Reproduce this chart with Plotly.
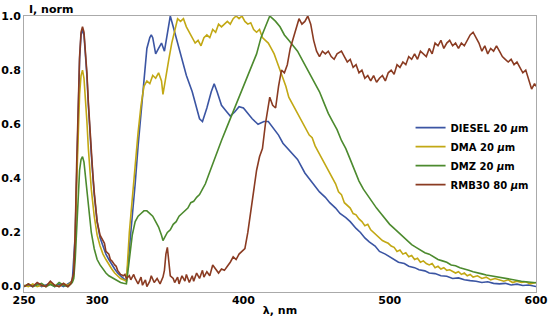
import plotly.graph_objects as go

# Normalised emission spectra (wavelength in nm, intensity 0..1)
diesel_nm = [250, 253, 256, 259, 262, 265, 268, 271, 274, 277, 280, 283, 285, 286, 287, 288, 289, 290,
             291, 292, 293, 294, 295, 296, 298, 300, 302, 304, 306, 308, 310, 312, 314, 316, 318, 320,
             322, 324, 326, 328, 330, 332, 334, 336, 337, 338, 340, 342, 344, 346, 348, 350, 352, 355,
             358, 361, 365, 368, 370, 372, 375, 378, 380, 382, 385, 388, 391, 394, 397, 400, 403, 406,
             410, 414, 417, 420, 424, 427, 432, 437, 442, 447, 452, 456, 459, 463, 466, 470, 473, 477,
             480, 483, 486, 490, 493, 497, 500, 503, 506, 510, 513, 517, 520, 524, 527, 531, 535, 539,
             543, 547, 551, 555, 559, 563, 567, 571, 575, 579, 583, 587, 591, 595, 600]
diesel_I = [0.0, 0.005, 0.0, 0.01, 0.0, 0.005, 0.012, 0.0, 0.008, 0.0, 0.01, 0.02, 0.19, 0.44, 0.67, 0.84, 0.93, 0.95,
            0.93, 0.87, 0.78, 0.67, 0.57, 0.49, 0.34, 0.24, 0.18, 0.15, 0.12, 0.10, 0.08, 0.065, 0.05, 0.04, 0.03, 0.02,
            0.14, 0.25, 0.38, 0.52, 0.64, 0.78, 0.88, 0.92, 0.93, 0.92, 0.86, 0.88, 0.90, 0.87, 0.93, 1.0, 0.96, 0.90,
            0.83, 0.78, 0.72, 0.66, 0.62, 0.61, 0.66, 0.72, 0.75, 0.72, 0.67, 0.65, 0.63, 0.645, 0.665, 0.66, 0.64, 0.62,
            0.60, 0.61, 0.61, 0.59, 0.56, 0.53, 0.50, 0.47, 0.42, 0.385, 0.35, 0.33, 0.31, 0.29, 0.27, 0.255, 0.24, 0.215,
            0.20, 0.18, 0.165, 0.15, 0.13, 0.12, 0.11, 0.10, 0.09, 0.085, 0.075, 0.07, 0.062, 0.058, 0.05, 0.048, 0.04, 0.038,
            0.03, 0.032, 0.025, 0.022, 0.02, 0.015, 0.018, 0.012, 0.01, 0.012, 0.006, 0.009, 0.004, 0.006, 0.0]

dma_nm = [250, 253, 256, 259, 262, 265, 268, 271, 274, 277, 280, 283, 284, 285, 286, 287, 288, 289, 290,
          291, 292, 293, 294, 295, 296, 298, 300, 302, 304, 306, 308, 310, 312, 314, 316, 318, 320,
          322, 324, 326, 328, 330, 332, 334, 336, 338, 340, 342, 344, 345, 347, 349, 351, 353, 355, 357, 359,
          361, 363, 365, 367, 369, 371, 373, 375, 377, 379, 381, 383, 385, 387, 389, 391, 393, 395, 397, 399,
          401, 403, 405, 407, 409, 411, 413, 415, 417, 419, 421, 423, 425, 427, 429, 431, 433, 435, 437, 439,
          441, 443, 445, 447, 449, 451, 453, 455, 457, 459, 461, 463, 465, 467, 469, 471, 473, 475, 477, 479,
          481, 483, 485, 487, 489, 491, 493, 495, 497, 499, 501, 503, 505, 507, 509, 511, 513, 515, 517, 519,
          521, 523, 525, 527, 529, 531, 533, 535, 537, 539, 541, 543, 545, 547, 549, 551, 553, 555, 557, 560,
          563, 566, 569, 572, 575, 578, 581, 584, 587, 590, 593, 596, 600]
dma_I = [0.005, 0.0, 0.01, 0.0, 0.005, 0.0, 0.015, 0.005, 0.0, 0.01, 0.005, 0.02, 0.04, 0.17, 0.38, 0.57, 0.71, 0.78, 0.80,
         0.77, 0.70, 0.61, 0.51, 0.43, 0.36, 0.26, 0.19, 0.15, 0.12, 0.10, 0.08, 0.065, 0.05, 0.04, 0.03, 0.025, 0.02,
         0.20, 0.33, 0.45, 0.57, 0.67, 0.74, 0.76, 0.75, 0.78, 0.77, 0.79, 0.76, 0.71, 0.78, 0.84, 0.90, 0.95, 0.99, 0.98, 0.99,
         0.96, 0.94, 0.92, 0.90, 0.91, 0.89, 0.92, 0.93, 0.92, 0.95, 0.94, 0.97, 0.96, 0.97, 0.98, 0.97, 0.99, 1.0, 0.99, 1.0,
         0.98, 0.97, 0.975, 0.95, 0.94, 0.95, 0.92, 0.91, 0.90, 0.88, 0.86, 0.83, 0.80, 0.77, 0.74, 0.70, 0.68, 0.66, 0.64, 0.62,
         0.60, 0.58, 0.56, 0.55, 0.52, 0.50, 0.48, 0.46, 0.44, 0.42, 0.40, 0.38, 0.35, 0.34, 0.31, 0.30, 0.29, 0.27, 0.265, 0.25,
         0.24, 0.225, 0.23, 0.21, 0.20, 0.19, 0.18, 0.17, 0.165, 0.16, 0.15, 0.145, 0.13, 0.135, 0.12, 0.125, 0.11, 0.115, 0.10, 0.105,
         0.09, 0.095, 0.085, 0.08, 0.085, 0.07, 0.075, 0.065, 0.07, 0.06, 0.062, 0.055, 0.05, 0.055, 0.045, 0.05, 0.04, 0.045, 0.035, 0.04,
         0.03, 0.035, 0.025, 0.03, 0.025, 0.02, 0.025, 0.015, 0.02, 0.015, 0.018, 0.01, 0.015]

dmz_nm = [250, 253, 256, 259, 262, 265, 268, 271, 274, 277, 280, 283, 284, 285, 286, 287, 288, 289, 290,
          291, 292, 293, 294, 295, 296, 298, 300, 302, 304, 306, 308, 310, 312, 314, 316, 318, 320,
          322, 324, 326, 328, 330, 332, 334, 336, 338, 340, 342, 344, 345, 346, 348, 350, 352, 354, 356, 358,
          360, 362, 364, 366, 368, 370, 372, 374, 376, 378, 380, 382, 385, 388, 391, 394, 397, 400, 403, 406,
          409, 412, 415, 418, 420, 422, 425, 428, 431, 434, 437, 440, 443, 446, 449, 452, 455, 458, 461, 464,
          467, 470, 473, 476, 479, 482, 485, 488, 491, 494, 497, 500, 503, 506, 509, 512, 515, 518, 521, 524,
          527, 530, 533, 536, 539, 542, 545, 548, 551, 554, 557, 560, 563, 566, 569, 572, 575, 578, 581, 584,
          587, 590, 593, 596, 600]
dmz_I = [0.0, 0.01, 0.0, 0.005, 0.012, 0.0, 0.008, 0.0, 0.015, 0.005, 0.0, 0.015, 0.03, 0.10, 0.23, 0.35, 0.43, 0.47, 0.48,
         0.46, 0.41, 0.35, 0.29, 0.24, 0.20, 0.14, 0.10, 0.08, 0.065, 0.05, 0.04, 0.033, 0.026, 0.02, 0.015, 0.012, 0.01,
         0.10, 0.19, 0.24, 0.26, 0.27, 0.28, 0.28, 0.27, 0.26, 0.24, 0.22, 0.19, 0.17, 0.18, 0.20, 0.21, 0.23, 0.24, 0.26, 0.27,
         0.28, 0.29, 0.31, 0.315, 0.33, 0.34, 0.36, 0.38, 0.41, 0.44, 0.47, 0.50, 0.54, 0.58, 0.62, 0.66, 0.70, 0.74, 0.78, 0.82,
         0.86, 0.92, 0.96, 1.0, 0.99, 0.98, 0.96, 0.93, 0.91, 0.89, 0.87, 0.84, 0.81, 0.78, 0.75, 0.72, 0.68, 0.64, 0.61, 0.58,
         0.54, 0.51, 0.47, 0.43, 0.39, 0.36, 0.335, 0.31, 0.29, 0.27, 0.25, 0.23, 0.215, 0.20, 0.185, 0.17, 0.155, 0.145, 0.135, 0.125,
         0.12, 0.11, 0.10, 0.095, 0.09, 0.08, 0.077, 0.07, 0.066, 0.06, 0.055, 0.05, 0.047, 0.043, 0.04, 0.037, 0.034, 0.03, 0.028, 0.025,
         0.022, 0.02, 0.018, 0.016, 0.014]

rmb_nm = [250, 253, 256, 259, 262, 265, 268, 271, 274, 277, 280, 282, 284, 285, 286, 287, 288, 289, 290,
          291, 292, 293, 294, 295, 296, 297, 298, 299, 300, 302, 304, 305, 306, 307, 308, 309, 310, 312, 313,
          314, 316, 318, 319, 320, 322, 323, 325, 326, 328, 330, 331, 333, 334, 336, 337, 339, 341, 343, 345,
          346, 347, 348, 349, 350, 352, 353, 355, 356, 358, 360, 361, 363, 365, 366, 368, 370, 372, 373, 375,
          377, 379, 381, 383, 385, 387, 389, 391, 393, 395, 397, 399, 401, 403, 405, 407, 409, 411, 413, 415,
          418, 420, 422, 424, 426, 428, 430, 432, 434, 436, 438, 440, 442, 444, 446, 448, 450, 452, 454, 456,
          458, 460, 462, 464, 467, 469, 471, 473, 475, 477, 479, 481, 483, 485, 487, 489, 491, 493, 495, 497,
          499, 501, 503, 505, 507, 509, 511, 513, 515, 517, 519, 521, 523, 525, 527, 529, 531, 533, 535, 537,
          539, 541, 543, 545, 547, 549, 551, 553, 555, 557, 559, 561, 563, 565, 567, 569, 571, 573, 575, 577,
          579, 581, 583, 585, 587, 589, 591, 593, 595, 597, 599, 600]
rmb_I = [0.0, 0.01, 0.0, 0.015, 0.005, 0.0, 0.02, 0.005, 0.0, 0.012, 0.0, 0.01, 0.05, 0.20, 0.45, 0.68, 0.85, 0.94, 0.96,
         0.94, 0.88, 0.79, 0.68, 0.58, 0.50, 0.42, 0.35, 0.29, 0.24, 0.19, 0.17, 0.16, 0.13, 0.125, 0.12, 0.10, 0.095, 0.08, 0.075,
         0.06, 0.045, 0.04, 0.045, 0.03, 0.04, 0.025, 0.045, 0.03, 0.01, 0.035, 0.005, 0.025, 0.0, 0.02, 0.04, 0.015, 0.03, 0.01, 0.035,
         0.06, 0.12, 0.145, 0.09, 0.04, 0.03, 0.015, 0.035, 0.01, 0.04, 0.02, 0.045, 0.015, 0.04, 0.02, 0.05, 0.03, 0.06, 0.035, 0.055,
         0.04, 0.08, 0.065, 0.05, 0.065, 0.06, 0.075, 0.09, 0.11, 0.10, 0.12, 0.13, 0.14, 0.20, 0.28, 0.35, 0.43, 0.48, 0.51, 0.60,
         0.70, 0.67, 0.66, 0.74, 0.80, 0.79, 0.82, 0.88, 0.92, 0.96, 0.99, 0.97, 0.98, 1.0, 0.97, 0.91, 0.87, 0.85, 0.87, 0.86,
         0.87, 0.85, 0.84, 0.86, 0.87, 0.85, 0.83, 0.84, 0.81, 0.82, 0.79, 0.80, 0.77, 0.78, 0.76, 0.78, 0.755, 0.77, 0.78, 0.76,
         0.79, 0.80, 0.785, 0.82, 0.81, 0.83, 0.82, 0.85, 0.84, 0.86, 0.84, 0.87, 0.86, 0.85, 0.88, 0.86, 0.90, 0.89, 0.91, 0.88,
         0.90, 0.91, 0.89, 0.90, 0.88, 0.90, 0.89, 0.91, 0.93, 0.94, 0.92, 0.90, 0.87, 0.89, 0.86, 0.88, 0.87, 0.89, 0.87, 0.85,
         0.84, 0.83, 0.84, 0.82, 0.83, 0.81, 0.79, 0.80, 0.76, 0.73, 0.75, 0.74]

series = [
    ('DIESEL 20 <i>µ</i>m', diesel_nm, diesel_I, '#3B55A3'),
    ('DMA 20 <i>µ</i>m', dma_nm, dma_I, '#C2A814'),
    ('DMZ 20 <i>µ</i>m', dmz_nm, dmz_I, '#4C8A2E'),
    ('RMB30 80 <i>µ</i>m', rmb_nm, rmb_I, '#8A3B22'),
]

x_ticks = [250, 300, 400, 500, 600]
y_ticks = [0.0, 0.2, 0.4, 0.6, 0.8, 1.0]

font = dict(family='DejaVu Sans', size=11, color='black', weight='bold')

fig = go.Figure()
for name, nm, inten, color in series:
    fig.add_trace(go.Scatter(
        x=nm, y=inten, name=name, mode='lines',
        line=dict(color=color, width=1.6)
    ))

fig.update_layout(
    width=550,
    height=321,
    margin=dict(l=24, r=14, t=16, b=29),
    paper_bgcolor='white',
    plot_bgcolor='white',
    font=font,
    showlegend=True,
    legend=dict(
        x=0.755, y=0.648, xanchor='left', yanchor='top',
        bgcolor='rgba(0,0,0,0)',
        font=dict(family='DejaVu Sans', size=10, color='black', weight='bold'),
        tracegroupgap=0
    ),
    xaxis=dict(
        range=[250, 600], tickvals=x_ticks, ticks='', showgrid=False, zeroline=False,
        showline=True, linecolor='#aaaaaa', linewidth=1, mirror=True, automargin=False,
        ticklabelstandoff=-2,
        title=dict(text='λ, nm', font=font, standoff=0)
    ),
    yaxis=dict(
        range=[-0.02, 1.0], tickvals=y_ticks, tickformat='.1f', ticks='', showgrid=False,
        zeroline=False, showline=True, linecolor='#aaaaaa', linewidth=1, mirror=True,
        automargin=False, ticklabelstandoff=0
    ),
    annotations=[dict(
        text='I, norm', xref='paper', yref='paper', x=0, y=1,
        xanchor='left', yanchor='bottom', xshift=3, yshift=-2,
        showarrow=False, font=font
    )]
)

# the page's default 8px body margin would push the chart off the window
fig.write_html("out.html", config={'displayModeBar': False},
               post_script="document.body.style.margin = '0';")
